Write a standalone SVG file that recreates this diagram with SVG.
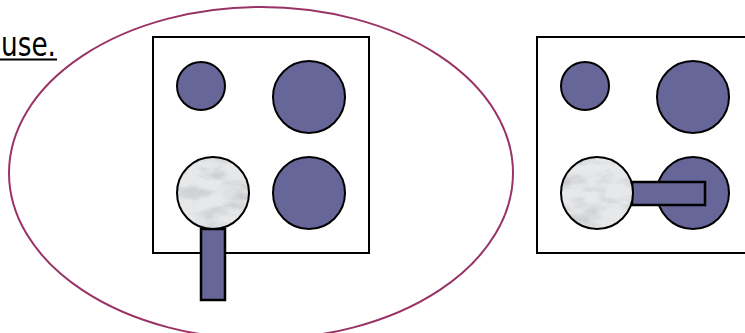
<svg xmlns="http://www.w3.org/2000/svg" width="745" height="333" viewBox="0 0 745 333">
<style>
.box{fill:#fff;stroke:#000;stroke-width:2}
.ball{fill:#666699;stroke:#000;stroke-width:2}
.rod{fill:#666699;stroke:#000;stroke-width:2.5}
.rim{fill:none;stroke:#000;stroke-width:2}
.txt{font-family:"DejaVu Sans",Verdana,sans-serif;font-size:33px;fill:#000}
</style>
<defs>
<filter id="marble" x="0" y="0" width="1" height="1">
<feTurbulence type="fractalNoise" baseFrequency="0.035 0.08" numOctaves="4" seed="3" result="n"/>
<feColorMatrix in="n" type="matrix" values="0 0 0 0 0.55  0 0 0 0 0.56  0 0 0 0 0.58  -2 0 0 0 1.2" result="c"/>
<feFlood flood-color="#e6e8ea" result="bg"/>
<feComposite in="c" in2="bg" operator="over"/>
</filter>
<clipPath id="c1"><circle cx="213" cy="193" r="36"/></clipPath>
<clipPath id="c2"><circle cx="597" cy="193" r="36"/></clipPath>
</defs>
<g id="caption">
<text class="txt" x="1" y="56" textLength="55" lengthAdjust="spacingAndGlyphs">use.</text>
<line x1="0" y1="59.5" x2="57" y2="59.5" stroke="#000" stroke-width="2"/>
</g>
<g id="boundary">
<ellipse cx="261" cy="173" rx="252" ry="166" fill="none" stroke="#993366" stroke-width="2"/>
</g>
<g id="board-left">
<rect class="box" x="153" y="37" width="216" height="216"/>
<circle class="ball" cx="201" cy="86" r="24"/>
<circle class="ball" cx="309" cy="97" r="36"/>
<circle class="ball" cx="309" cy="193" r="36"/>
<rect class="rod" x="201" y="229" width="24" height="71"/>
<g clip-path="url(#c1)"><rect x="177" y="157" width="72" height="72" filter="url(#marble)"/></g>
<circle class="rim" cx="213" cy="193" r="36"/>
</g>
<g id="board-right">
<rect class="box" x="537" y="37" width="220" height="216"/>
<circle class="ball" cx="585" cy="86" r="24"/>
<circle class="ball" cx="693" cy="97" r="36"/>
<circle class="ball" cx="693" cy="193" r="36"/>
<rect class="rod" x="632" y="182" width="73" height="23"/>
<g clip-path="url(#c2)"><rect x="561" y="157" width="72" height="72" filter="url(#marble)"/></g>
<circle class="rim" cx="597" cy="193" r="36"/>
</g>
</svg>
